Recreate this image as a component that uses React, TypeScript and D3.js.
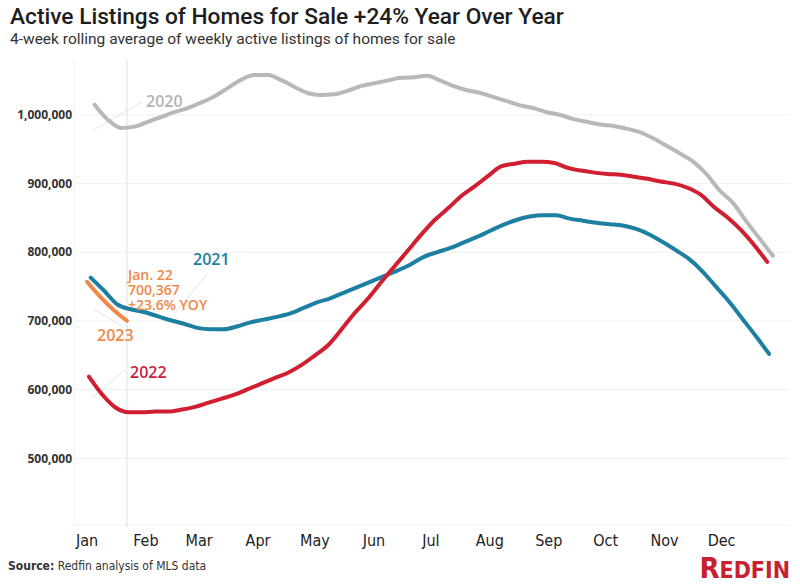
import React, { useEffect, useRef } from 'react'
import * as d3 from 'd3'

// weekly values, thousands of listings (4-week rolling avg)
const listings2020 = [
  1015, 993, 981, 983, 990, 997, 1004, 1010, 1018, 1027, 1039, 1051, 1058, 1058, 1051, 1041, 1032, 1029,
  1030, 1035, 1042, 1046, 1050, 1054, 1055, 1057, 1050, 1042, 1036, 1032, 1026, 1020, 1014, 1010, 1004,
  1000, 994, 990, 986, 984, 980, 975, 966, 955, 944, 932, 914, 890, 872, 845, 820, 795,
]
const listings2021 = [
  763, 744, 724, 717, 713, 707, 701, 696, 690, 688, 688, 692, 698, 702, 706, 711, 719, 727, 733, 741, 749,
  757, 765, 773, 782, 793, 800, 806, 814, 822, 831, 840, 847, 852, 854, 854, 849, 846, 843, 841, 839, 834,
  826, 815, 803, 790, 772, 750, 728, 703, 678, 652,
]
const listings2022 = [
  619, 593, 574, 567, 567, 568, 568, 571, 575, 581, 587, 593, 601, 609, 617, 625, 636, 650, 665, 688, 712,
  733, 757, 780, 803, 826, 847, 864, 882, 896, 911, 925, 929, 932, 932, 930, 923, 919, 916, 914, 913, 910,
  907, 903, 900, 894, 884, 866, 851, 833, 811, 786,
]
const listings2023 = [757, 735, 716, 700.367]

const firstWeeks = ['2020-01-05', '2021-01-03', '2022-01-02', '2023-01-01']
const yearNames = ['2020', '2021', '2022', '2023']
const yearColors = ['#b8b8b8', '#1d7fa1', '#d11f31', '#f08848']
const yearLabelColors = ['#b3b3b3', '#1d7fa1', '#c8203c', '#f08848']

const yTicks = [500000, 600000, 700000, 800000, 900000, 1000000]
const monthNames = ['Jan', 'Feb', 'Mar', 'Apr', 'May', 'Jun', 'Jul', 'Aug', 'Sep', 'Oct', 'Nov', 'Dec']

const W = 800
const H = 586

export default function App() {
  const ref = useRef<SVGSVGElement | null>(null)

  useEffect(() => {
    if (!ref.current) return
    const svg = d3.select(ref.current)
    svg.selectAll('*').remove()

    const x = d3.scaleLinear().domain([0, 365]).range([87, 87 + 365 * 1.9])
    const y = d3.scaleLinear().domain([400000, 1080000]).range([527, 60])

    const dayOfYear = (d: Date) => d3.timeDay.count(d3.timeYear(d), d)
    const parse = d3.timeParse('%Y-%m-%d')

    type Pt = { date: Date; v: number }
    const all = [listings2020, listings2021, listings2022, listings2023]
    const series: Pt[][] = all.map((vals, i) => {
      const start = parse(firstWeeks[i]) as Date
      return vals.map((v, k) => ({ date: d3.timeDay.offset(start, 7 * k), v: v * 1000 }))
    })

    // title
    svg.append('text')
      .attr('x', 10).attr('y', 24)
      .style('font-family', 'Roboto, sans-serif')
      .style('font-size', '22.7px')
      .style('font-weight', 500)
      .attr('fill', '#1e1e1e')
      .text('Active Listings of Homes for Sale +24% Year Over Year')
    svg.append('text')
      .attr('x', 10).attr('y', 44)
      .style('font-family', 'Roboto, sans-serif')
      .style('font-size', '15.5px')
      .attr('fill', '#333')
      .text('4-week rolling average of weekly active listings of homes for sale')

    // grid
    const grid = svg.append('g')
    grid.selectAll('line.h')
      .data(yTicks)
      .join('line')
      .attr('x1', 76).attr('x2', 790)
      .attr('y1', (d) => y(d)).attr('y2', (d) => y(d))
      .attr('stroke', '#f0f0f0')
    grid.append('line')
      .attr('x1', 74).attr('x2', 74).attr('y1', 60).attr('y2', 525)
      .attr('stroke', '#f0f0f0')
    grid.append('line')
      .attr('x1', 74).attr('x2', 790).attr('y1', 525).attr('y2', 525)
      .attr('stroke', '#f0f0f0')
    // latest week marker (Jan 22)
    const markX = x(dayOfYear(series[3][series[3].length - 1].date))
    grid.append('line')
      .attr('x1', markX).attr('x2', markX).attr('y1', 60).attr('y2', 527)
      .attr('stroke', '#dedede')

    // y labels
    svg.append('g')
      .selectAll('text')
      .data(yTicks)
      .join('text')
      .attr('x', 72)
      .attr('y', (d) => y(d))
      .attr('dy', '0.35em')
      .attr('text-anchor', 'end')
      .style('font-family', '"Open Sans", sans-serif')
      .style('font-size', '12px')
      .style('font-weight', 700)
      .attr('fill', '#333')
      .text((d) => d3.format(',')(d))

    // x labels
    svg.append('g')
      .selectAll('text')
      .data(monthNames)
      .join('text')
      .attr('x', (_d, i) => x(dayOfYear(new Date(2023, i, 1))))
      .attr('y', 546)
      .attr('text-anchor', 'middle')
      .style('font-family', '"Liberation Sans Narrow", "DejaVu Sans Condensed", sans-serif')
      .style('font-size', '16px')
      .attr('fill', '#222')
      .text((d) => d)

    // annotation leaders
    const leaders: [number, number, number, number][] = [
      [95, 129, 142, 102],
      [175, 313, 208, 273],
      [92, 398, 125, 370],
      [93, 309, 122, 326],
    ]
    svg.append('g')
      .selectAll('line')
      .data(leaders)
      .join('line')
      .attr('x1', (d) => d[0]).attr('y1', (d) => d[1])
      .attr('x2', (d) => d[2]).attr('y2', (d) => d[3])
      .attr('stroke', '#e4e4e4')
      .attr('stroke-width', 1)

    // lines
    const line = d3.line<Pt>()
      .x((d) => x(dayOfYear(d.date)))
      .y((d) => y(d.v))
      .curve(d3.curveMonotoneX)
    svg.append('g')
      .selectAll('path')
      .data(series)
      .join('path')
      .attr('d', (d) => line(d) || '')
      .attr('fill', 'none')
      .attr('stroke', (_d, i) => yearColors[i])
      .attr('stroke-width', 4)
      .attr('stroke-linecap', 'round')
      .attr('stroke-linejoin', 'round')

    // year labels
    const labelPos: [number, number][] = [[146, 107], [193, 265], [130, 378], [97, 341]]
    svg.append('g')
      .selectAll('text')
      .data(yearNames)
      .join('text')
      .attr('x', (_d, i) => labelPos[i][0])
      .attr('y', (_d, i) => labelPos[i][1])
      .style('font-family', '"Open Sans", sans-serif')
      .style('font-size', '16px')
      .style('font-weight', 600)
      .attr('fill', (_d, i) => yearLabelColors[i])
      .text((d) => d)

    // latest value callout, one text block with three lines
    const last = series[3][series[3].length - 1]
    const callout = [
      d3.timeFormat('%b. %-d')(last.date),
      d3.format(',')(Math.round(last.v)),
      '+23.6% YOY',
    ]
    svg.append('text')
      .attr('x', 128)
      .attr('y', 280)
      .style('font-family', '"Open Sans", sans-serif')
      .style('font-size', '14px')
      .style('font-weight', 600)
      .attr('fill', yearColors[3])
      .selectAll('tspan')
      .data(callout)
      .join('tspan')
      .attr('x', 128)
      .attr('dy', (_d, i) => (i === 0 ? 0 : 15))
      .text((d) => d)

    // source
    const src = svg.append('text')
      .attr('x', 8).attr('y', 570)
      .style('font-family', '"Liberation Sans Narrow", "DejaVu Sans Condensed", sans-serif')
      .style('font-size', '12px')
      .attr('fill', '#333')
    src.append('tspan').style('font-weight', 700).text('Source:')
    src.append('tspan').text(' Redfin analysis of MLS data')

    // logo
    const logo = svg.append('text')
      .attr('x', 790).attr('y', 578)
      .attr('text-anchor', 'end')
      .style('font-family', '"Liberation Sans Narrow", "DejaVu Sans Condensed", sans-serif')
      .style('font-weight', 700)
      .attr('fill', '#c8202f')
    logo.append('tspan').style('font-size', '29px').text('R')
    logo.append('tspan').style('font-size', '23px').text('EDFIN')
  }, [])

  return (
    <svg
      ref={ref}
      width={W}
      height={H}
      style={{ position: 'absolute', left: 0, top: 0, background: '#fff' }}
    />
  )
}
